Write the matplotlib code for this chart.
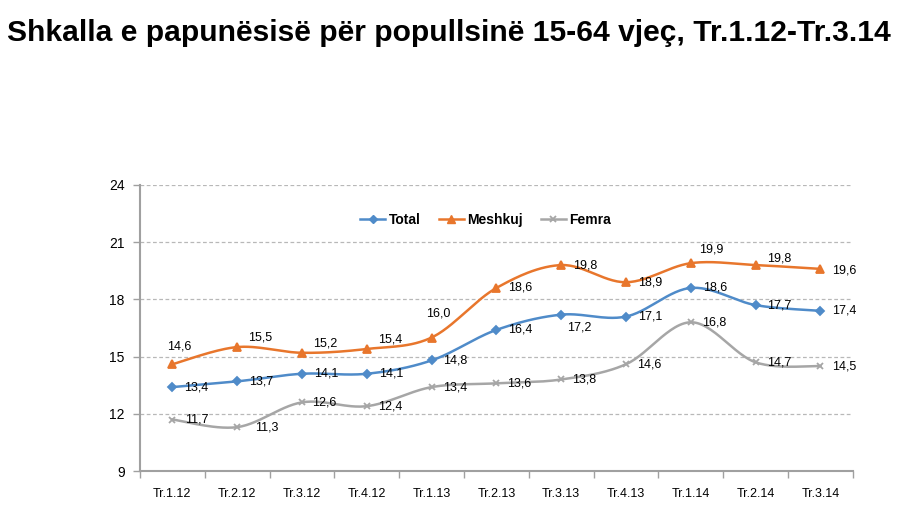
import numpy as np
import matplotlib
matplotlib.use("Agg")
import matplotlib.pyplot as plt
from matplotlib.lines import Line2D

categories = ["Tr.1.12", "Tr.2.12", "Tr.3.12", "Tr.4.12", "Tr.1.13", "Tr.2.13",
              "Tr.3.13", "Tr.4.13", "Tr.1.14", "Tr.2.14", "Tr.3.14"]
total = [13.4, 13.7, 14.1, 14.1, 14.8, 16.4, 17.2, 17.1, 18.6, 17.7, 17.4]
meshkuj = [14.6, 15.5, 15.2, 15.4, 16.0, 18.6, 19.8, 18.9, 19.9, 19.8, 19.6]
femra = [11.7, 11.3, 12.6, 12.4, 13.4, 13.6, 13.8, 14.6, 16.8, 14.7, 14.5]
yticks = [9, 12, 15, 18, 21, 24]

plt.rcParams['font.family'] = ['Liberation Sans', 'DejaVu Sans']

def smooth(xs, ys, n=30):
    xs = np.asarray(xs, float); ys = np.asarray(ys, float)
    P = np.column_stack([xs, ys])
    out = []
    for i in range(len(P) - 1):
        p0 = P[i - 1] if i > 0 else P[i]
        p1 = P[i]; p2 = P[i + 1]
        p3 = P[i + 2] if i + 2 < len(P) else P[i + 1]
        c1 = p1 + (p2 - p0) / 6.0
        c2 = p2 - (p3 - p1) / 6.0
        t = np.linspace(0, 1, n)[:, None]
        seg = (1 - t) ** 3 * p1 + 3 * (1 - t) ** 2 * t * c1 + 3 * (1 - t) * t ** 2 * c2 + t ** 3 * p2
        out.append(seg if i == 0 else seg[1:])
    S = np.vstack(out)
    return S[:, 0], S[:, 1]

fig = plt.figure(figsize=(9.22, 5.22), dpi=100)
ax = fig.add_axes([0.1518, 0.0977, 0.925 - 0.1518, 0.6456 - 0.0977])

x = np.arange(len(categories))
c_total = "#4F8BC9"
c_mesh = "#E8762C"
c_fem = "#A6A6A6"

series = [(total, c_total, "D", 4, "Total"),
          (meshkuj, c_mesh, "^", 6, "Meshkuj"),
          (femra, c_fem, "x", 5, "Femra")]
for vals, col, mk, ms, lab in series:
    sx, sy = smooth(x, vals)
    ax.plot(sx, sy, color=col, lw=1.8, zorder=3)
    ax.plot(x, vals, ls="none", marker=mk, ms=ms, color=col, mec=col, mew=1.3, zorder=4)

def fmt(v):
    return f"{v:.1f}".replace(".", ",")

fs = 9
total_off = [(8.5, 0)] * 11
total_off[6] = (4, -9.5)
mesh_off = [(-4, 13), (8, 7), (8, 7), (8, 7), (-4, 17), (8.5, 0), (8.5, 0), (8.5, 0), (6, 10), (8.5, 5), (8.5, -1)]
fem_off = [(9, 0), (13, 0), (7.5, 0), (8, 0), (8, 0), (8, 0), (8, 0), (8, 0), (8, 0), (8, 0), (8.5, 0)]
for vals, offs in [(total, total_off), (meshkuj, mesh_off), (femra, fem_off)]:
    for i, v in enumerate(vals):
        dx, dy = offs[i]
        ax.annotate(fmt(v), (i, v), xytext=(dx, dy), textcoords="offset points",
                    fontsize=fs, va="center", ha="left", zorder=5)

ax.set_xlim(-0.5, len(categories) - 0.5)
ax.set_ylim(9, 24)
ax.set_yticks(yticks)
ax.set_yticklabels([str(t) for t in yticks], fontsize=10)
ax.set_xticks(x)
ax.set_xticklabels(categories, fontsize=9)
ax.set_xticks(np.arange(-0.5, len(categories)), minor=True)
ax.tick_params(axis="x", which="major", length=0, pad=12)
ax.tick_params(axis="x", which="minor", length=5, color="#A0A0A0", width=1)
ax.tick_params(axis="y", length=5, color="#A0A0A0", width=1, pad=6)
for t in yticks[1:]:
    ax.axhline(t, color="#B8B8B8", lw=0.9, ls=(0, (3, 2)), zorder=1)
for s in ["top", "right"]:
    ax.spines[s].set_visible(False)
for s in ["left", "bottom"]:
    ax.spines[s].set_color("#A0A0A0")
    ax.spines[s].set_linewidth(1.5)

handles = [Line2D([], [], color=c_total, lw=1.8, marker="D", ms=4),
           Line2D([], [], color=c_mesh, lw=1.8, marker="^", ms=6),
           Line2D([], [], color=c_fem, lw=1.8, marker="x", ms=5, mew=1.3)]
ax.legend(handles, ["Total", "Meshkuj", "Femra"], loc="upper center", bbox_to_anchor=(0.485, 0.945),
          ncol=3, frameon=False, prop={"weight": "bold", "size": 10}, handlelength=1.8,
          columnspacing=1.3, handletextpad=0.25)

fig.text(0.487, 0.936, "Shkalla e papunësisë për popullsinë 15-64 vjeç, Tr.1.12-Tr.3.14",
         ha="center", va="center", fontsize=21.6, fontweight="bold", color="black")

fig.savefig("out.png", dpi=100)
